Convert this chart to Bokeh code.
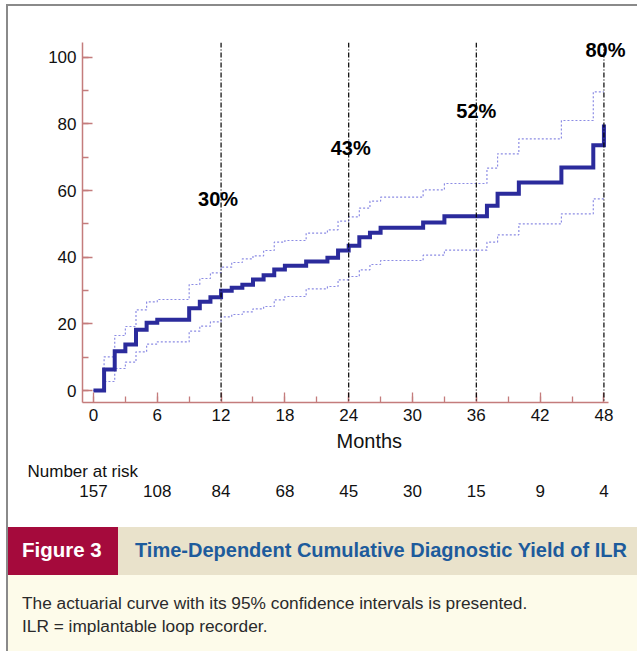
from bokeh.plotting import figure
from bokeh.models import (Range1d, SingleIntervalTicker, FixedTicker, Span, LabelSet,
                          ColumnDataSource, Div, Spacer, LinearAxis, Title)
from bokeh.layouts import column, row
from bokeh.embed import file_html
from bokeh.resources import INLINE
from bokeh.core.properties import value

# ---------------- data ----------------
step_months = [0, 1, 2, 3, 4, 5, 6, 9, 10, 11, 12, 13, 14, 15, 16, 17, 18, 20, 22,
               23, 24, 25, 26, 27, 31, 33, 37, 38, 40, 44, 47, 48]
yield_main = [0, 6.3, 11.8, 13.8, 18.2, 20.3, 21.2, 24.7, 26.6, 28.0, 29.9, 30.8, 31.7,
              33.3, 34.6, 36.3, 37.4, 38.7, 39.8, 42.0, 43.4, 46.0, 47.3, 48.8, 50.4,
              52.3, 55.4, 59.0, 62.4, 66.9, 73.6, 79.8]
ci_upper = [0, 10.1, 16.5, 19.2, 24.2, 26.6, 27.3, 31.8, 33.6, 35.3, 37.0, 38.4, 39.5,
            40.4, 42.0, 44.5, 45.0, 47.2, 48.2, 50.8, 52.1, 54.7, 56.8, 58.0, 60.2,
            62.1, 66.7, 71.0, 75.5, 81.0, 89.6, 89.6]
ci_lower = [0, 2.7, 6.6, 8.5, 11.6, 13.9, 14.6, 17.8, 19.3, 20.6, 22.1, 22.8, 23.6,
            24.5, 25.2, 27.2, 28.2, 30.5, 31.2, 33.2, 34.2, 36.2, 37.8, 39.0, 40.6,
            42.1, 44.5, 46.7, 50.0, 53.0, 57.5, 57.5]

marker_months = [12, 24, 36, 48]
marker_labels = ["30%", "43%", "52%", "80%"]

risk_months = [0, 6, 12, 18, 24, 30, 36, 42, 48]
risk_counts = ["157", "108", "84", "68", "45", "30", "15", "9", "4"]

x_label = "Months"
risk_title = "Number at risk"
fig_label = "Figure 3"
fig_title = "Time-Dependent Cumulative Diagnostic Yield of ILR"
caption_lines = ["The actuarial curve with its 95% confidence intervals is presented.",
                 "ILR = implantable loop recorder."]

# ---------------- style / layout ----------------
FONT = "Liberation Sans"
AXIS_COLOR = "#c47c7c"
MAIN_COLOR = "#2b2b9c"
CI_COLOR = "#8c8ce4"
TEXT_COLOR = "#111111"

p = figure(width=629, height=509,
           x_range=Range1d(-1.03, 48.43), y_range=Range1d(-3.6, 104.4),
           output_backend="svg", toolbar_location=None,
           min_border_left=74, min_border_right=29, min_border_top=36,
           min_border_bottom=113)
p.grid.visible = False
p.outline_line_color = None
p.background_fill_color = "white"
p.border_fill_color = "white"

p.xaxis.ticker = SingleIntervalTicker(interval=6, num_minor_ticks=2)
p.yaxis.ticker = SingleIntervalTicker(interval=20, num_minor_ticks=2)
for ax in (p.xaxis[0], p.yaxis[0]):
    ax.axis_line_color = AXIS_COLOR
    ax.axis_line_width = 1.5
    ax.major_tick_line_color = AXIS_COLOR
    ax.minor_tick_line_color = AXIS_COLOR
    ax.major_tick_line_width = 1.3
    ax.minor_tick_line_width = 1.3
    ax.major_tick_in = 10
    ax.major_tick_out = 0
    ax.minor_tick_in = 6
    ax.minor_tick_out = 0
    ax.major_label_text_font = FONT
    ax.major_label_text_font_size = "17px"
    ax.major_label_text_color = TEXT_COLOR
    ax.major_label_standoff = 6

p.step(step_months, ci_upper, mode="after", line_color=CI_COLOR, line_width=1.2,
       line_dash="2 2")
p.step(step_months, ci_lower, mode="after", line_color=CI_COLOR, line_width=1.2,
       line_dash="2 2")
p.step(step_months, yield_main, mode="after", line_color=MAIN_COLOR, line_width=4,
       line_join="miter")

for m in marker_months:
    p.add_layout(Span(location=m, dimension="height", line_color="black",
                      line_width=1.2, line_dash="5 2 1 2"))

# percentage labels inside the frame (first three)
pct_src = ColumnDataSource(dict(x=marker_months[:3], text=marker_labels[:3],
                                y=[57.6, 72.9, 84.0], dx=[-3, 2, 0]))
p.add_layout(LabelSet(x="x", y="y", text="text", source=pct_src, x_offset="dx",
                      text_font=value(FONT), text_font_style="bold",
                      text_font_size=value("20px"), text_color="black",
                      text_align="center", text_baseline="middle"))

# last percentage label straddles the frame edge: drawn by a right-hand axis
pct_axis = LinearAxis(ticker=FixedTicker(ticks=[102.3]),
                      major_label_overrides={102.3: marker_labels[3]},
                      axis_line_color=None, major_tick_line_color=None,
                      minor_tick_line_color=None, major_tick_in=0, major_tick_out=0,
                      major_label_standoff=-23, major_label_text_font=FONT,
                      major_label_text_font_style="bold",
                      major_label_text_font_size="20px",
                      major_label_text_color="black")
p.add_layout(pct_axis, "right")

# below the axis: "Months", "Number at risk", counts
p.add_layout(Title(text=x_label, align="left", offset=254, text_font=FONT,
                   text_font_size="20px", text_font_style="normal",
                   text_color=TEXT_COLOR, standoff=9), "below")
p.add_layout(Title(text=risk_title, align="left", offset=-55, text_font=FONT,
                   text_font_size="17px", text_font_style="normal",
                   text_color=TEXT_COLOR, standoff=6), "below")
risk_axis = LinearAxis(ticker=FixedTicker(ticks=risk_months),
                       major_label_overrides=dict(zip(risk_months, risk_counts)),
                       axis_line_color=None, major_tick_line_color=None,
                       minor_tick_line_color=None, major_tick_in=0, major_tick_out=0,
                       major_label_standoff=1, major_label_text_font=FONT,
                       major_label_text_font_size="17px",
                       major_label_text_color=TEXT_COLOR)
p.add_layout(risk_axis, "below")

# ---------------- caption (HTML box) ----------------
caption_html = (
    "<div style=\"position:relative;width:629px;height:136px;"
    "font-family:'Liberation Sans',Arial,sans-serif;\">"
    "<div style=\"position:absolute;left:0;top:12px;width:110px;height:48px;"
    "background:#a50a3c;\"></div>"
    "<div style=\"position:absolute;left:110px;top:12px;width:519px;height:48px;"
    "background:#e9e2cb;\"></div>"
    "<div style=\"position:absolute;left:0;top:60px;width:629px;height:76px;"
    "background:#fdfbea;\"></div>"
    "<div style=\"position:absolute;left:14px;top:23px;line-height:24px;font-size:20.5px;"
    "font-weight:bold;color:#ffffff;white-space:nowrap;\">" + fig_label + "</div>"
    "<div style=\"position:absolute;left:127px;top:23px;line-height:24px;font-size:20px;"
    "font-weight:bold;color:#1d5b9c;white-space:nowrap;\">" + fig_title + "</div>"
    "<div style=\"position:absolute;left:14px;top:78px;line-height:20px;font-size:17.3px;"
    "color:#2a2a2a;white-space:nowrap;\">" + caption_lines[0] + "</div>"
    "<div style=\"position:absolute;left:14px;top:101px;line-height:20px;font-size:17.3px;"
    "color:#2a2a2a;white-space:nowrap;\">" + caption_lines[1] + "</div>"
    "</div>"
)
caption = Div(text=caption_html, width=629, height=136, margin=0)

gap_top = Spacer(width=637, height=4)
gap_left = Spacer(width=6, height=647)
top_line = Div(width=631, height=2, margin=0, styles={"background-color": "#8a8a8a"})
left_line = Div(width=2, height=645, margin=0, styles={"background-color": "#8a8a8a"})
content = column(p, caption, spacing=0)
inner = column(top_line, row(left_line, content, spacing=0), spacing=0)
layout = column(gap_top, row(gap_left, inner, spacing=0), spacing=0)

open("out.html", "w").write(file_html(layout, INLINE))
